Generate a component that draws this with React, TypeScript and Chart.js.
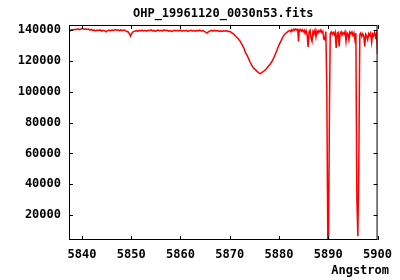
import React, { useEffect, useRef } from "react";
import Chart from "chart.js/auto";

const TITLE = "OHP_19961120_0030n53.fits";
const X_LABEL = "Angstrom";
const X_MIN = 5837.37;
const X_MAX = 5900;
const Y_MIN = 4000;
const Y_MAX = 143100;
const X_TICKS = [5840, 5850, 5860, 5870, 5880, 5890, 5900];
const Y_TICKS = [20000, 40000, 60000, 80000, 100000, 120000, 140000];

// Wavelength (Angstrom) of each sample
const wavelength = [
  5837.4, 5837.7, 5838.0, 5838.3, 5838.6, 5838.9, 5839.2, 5839.5, 5839.8, 5840.1,
  5840.4, 5840.7, 5841.0, 5841.3, 5841.6, 5841.9, 5842.2, 5842.5, 5842.8, 5843.1,
  5843.4, 5843.7, 5844.0, 5844.3, 5844.6, 5844.9, 5845.2, 5845.5, 5845.8, 5846.1,
  5846.4, 5846.7, 5847.0, 5847.3, 5847.6, 5847.9, 5848.2, 5848.5, 5848.8, 5849.1,
  5849.4, 5849.65, 5849.85, 5850.1, 5850.4,
  5850.7, 5851.0, 5851.3, 5851.6, 5851.9, 5852.2, 5852.5, 5852.8, 5853.1, 5853.4,
  5853.7, 5854.0, 5854.3, 5854.6, 5854.9, 5855.2, 5855.5, 5855.8, 5856.1, 5856.4,
  5856.7, 5857.0, 5857.3, 5857.6, 5857.9, 5858.2, 5858.5, 5858.8, 5859.1, 5859.4,
  5859.7, 5860.0, 5860.3, 5860.6, 5860.9, 5861.2, 5861.5, 5861.8, 5862.1, 5862.4,
  5862.7, 5863.0, 5863.3, 5863.6, 5863.9, 5864.2, 5864.5, 5864.8, 5865.1, 5865.4,
  5865.7, 5866.0, 5866.3, 5866.6, 5866.9, 5867.2, 5867.5, 5867.8, 5868.1, 5868.4,
  5868.7, 5869.0, 5869.3, 5869.6, 5869.9, 5870.2,
  5870.5, 5870.8, 5871.1, 5871.4, 5871.7, 5872.0, 5872.3, 5872.6, 5872.9, 5873.2,
  5873.5, 5873.8, 5874.1, 5874.4, 5874.7, 5875.0, 5875.3, 5875.6, 5875.9, 5876.2,
  5876.5, 5876.8, 5877.1, 5877.4, 5877.7, 5878.0, 5878.3, 5878.6, 5878.9, 5879.2,
  5879.5, 5879.8, 5880.1, 5880.4, 5880.7, 5881.0, 5881.3, 5881.6, 5881.9,
  5882.2, 5882.4, 5882.6, 5882.8, 5883.0, 5883.2, 5883.4, 5883.6, 5883.8, 5883.95,
  5884.1, 5884.3, 5884.5, 5884.7, 5884.9, 5885.1, 5885.3, 5885.5, 5885.7, 5885.9,
  5886.1, 5886.3, 5886.5, 5886.7, 5886.9, 5887.1, 5887.3, 5887.5, 5887.7, 5887.9,
  5888.1, 5888.3, 5888.5, 5888.7, 5888.9, 5889.1, 5889.3, 5889.5, 5889.7, 5889.9,
  5890.05, 5890.25, 5890.4, 5890.6, 5890.8, 5891.0, 5891.2, 5891.4, 5891.6, 5891.8,
  5892.0, 5892.2, 5892.4, 5892.6, 5892.8, 5893.0, 5893.2, 5893.4, 5893.6, 5893.8,
  5894.0, 5894.2, 5894.4, 5894.6, 5894.8, 5895.0, 5895.2, 5895.4, 5895.6, 5895.8,
  5896.0, 5896.2, 5896.4, 5896.6, 5896.8, 5897.0, 5897.2, 5897.4, 5897.6, 5897.8,
  5898.0, 5898.2, 5898.4, 5898.6, 5898.8, 5899.0, 5899.2, 5899.4, 5899.6, 5899.8,
  5900.0,
];

// Flux (counts) at each wavelength
const flux = [
  138600, 139800, 140100, 139900, 140400, 140200, 140600, 140100, 140500, 140900,
  140300, 140700, 140200, 140500, 139800, 140300, 139600, 139900, 139300, 139800,
  139500, 139900, 139200, 139700, 139400, 138700, 139500, 139800, 139300, 139900,
  139600, 140100, 139700, 140000, 139500, 139900, 139400, 139800, 139600, 138900,
  138600, 137200, 135900, 137600, 138800,
  139100, 139500, 139000, 139700, 139300, 139800, 139200, 139600, 139100, 139700,
  139400, 139900, 139300, 139600, 139000, 139500, 139800, 139200, 139600, 139300,
  139900, 139400, 139700, 139100, 139500, 138800, 139400, 139700, 139200, 139600,
  139300, 139800, 139100, 139500, 139200, 139600, 139000, 139400, 139700, 139200,
  139500, 139100, 139600, 139300, 139800, 139200, 139500, 139000, 138500, 137900,
  138800, 139300, 139600, 139100, 139700, 139300, 139500, 139000, 139400, 138900,
  139300, 139100, 139500, 138900, 139000, 138600,
  137900, 137200, 136100, 135200, 134200, 133100, 131600, 129800, 127900, 125000,
  123600, 121500, 119300, 117500, 115800, 114700, 113900, 112900, 112100, 111700,
  112400, 113000, 113700, 114700, 115900, 117000, 118200, 119800, 121700, 123900,
  126200, 128700, 130900, 132800, 134900, 136400, 137600, 138300, 139100,
  139600, 138700, 140100, 139300, 140400, 139800, 140600, 139900, 140300, 132500,
  139700, 140200, 139100, 140000, 138800, 139800, 137600, 139400, 136800, 128900,
  138700, 139700, 134600, 132500, 139200, 138100, 139800, 135400, 139300, 137900,
  139500, 138600, 139900, 138200, 139100, 134000, 133600, 138900, 101700, 4000,
  5000, 92200, 137400, 138600, 137100, 138300, 136900, 138500, 128200, 137800,
  138400, 129200, 137500, 138700, 136600, 138200, 137300, 138800, 132500, 138100,
  137000, 133600, 138500, 137400, 138600, 136500, 138000, 133600, 137800, 31000,
  6500, 54000, 136800, 137900, 135600, 137400, 136200, 129200, 137100, 135900,
  133600, 137500, 136300, 137800, 131800, 137200, 136000, 138300, 135300, 137600,
  124300,
];

const FONT = "'DejaVu Sans Mono', monospace";

export default function App() {
  const ref = useRef<HTMLCanvasElement>(null);

  useEffect(() => {
    document.body.style.margin = "0";
    const canvas = ref.current;
    if (!canvas) return;

    const framePlugin = {
      id: "gnuFrame",
      afterDraw(chart: any) {
        const { ctx, chartArea: a, scales } = chart;
        ctx.save();
        ctx.strokeStyle = "#000";
        ctx.lineWidth = 1;
        ctx.strokeRect(a.left + 0.5, a.top + 0.5, a.right - a.left - 1, a.bottom - a.top - 1);
        const tl = 4;
        ctx.beginPath();
        for (const v of X_TICKS) {
          const px = Math.round(scales.x.getPixelForValue(v)) + 0.5;
          ctx.moveTo(px, a.bottom);
          ctx.lineTo(px, a.bottom - tl);
          ctx.moveTo(px, a.top);
          ctx.lineTo(px, a.top + tl);
        }
        for (const v of Y_TICKS) {
          const py = Math.round(scales.y.getPixelForValue(v)) + 0.5;
          ctx.moveTo(a.left, py);
          ctx.lineTo(a.left + tl, py);
          ctx.moveTo(a.right, py);
          ctx.lineTo(a.right - tl, py);
        }
        ctx.stroke();
        ctx.fillStyle = "#000";
        ctx.font = `bold 12px ${FONT}`;
        ctx.textBaseline = "middle";
        ctx.textAlign = "center";
        ctx.fillText(TITLE, (a.left + a.right) / 2, 14);
        ctx.textAlign = "right";
        ctx.fillText(X_LABEL, 389, 271);
        ctx.restore();
      },
    };

    const tickFont = { family: FONT, size: 12, weight: "bold" as const };

    const chart = new Chart(canvas, {
      type: "line",
      data: {
        datasets: [
          {
            data: wavelength.map((x, i) => ({ x, y: flux[i] })),
            borderColor: "#ff0000",
            borderWidth: 1.5,
            pointRadius: 0,
            tension: 0,
            fill: false,
          },
        ],
      },
      options: {
        animation: false,
        responsive: false,
        layout: { padding: { left: 0, right: 21, top: 25, bottom: 0 } },
        plugins: { legend: { display: false }, tooltip: { enabled: false }, title: { display: false } },
        scales: {
          x: {
            type: "linear",
            min: X_MIN,
            max: X_MAX,
            afterBuildTicks: (s: any) => {
              s.ticks = X_TICKS.map((value) => ({ value }));
            },
            afterFit: (s: any) => {
              s.height = 40;
            },
            grid: { display: false, drawTicks: false },
            border: { display: false },
            ticks: {
              color: "#000",
              font: tickFont,
              padding: 8,
              maxRotation: 0,
              autoSkip: false,
              callback: (v: any) => String(v),
            },
          },
          y: {
            type: "linear",
            min: Y_MIN,
            max: Y_MAX,
            afterBuildTicks: (s: any) => {
              s.ticks = Y_TICKS.map((value) => ({ value }));
            },
            afterFit: (s: any) => {
              s.width = 69;
            },
            grid: { display: false, drawTicks: false },
            border: { display: false },
            ticks: {
              color: "#000",
              font: tickFont,
              padding: 8,
              autoSkip: false,
              callback: (v: any) => String(v),
            },
          },
        },
      },
      plugins: [framePlugin],
    });

    return () => chart.destroy();
  }, []);

  return (
    <div style={{ width: 400, height: 280, background: "#fff" }}>
      <canvas ref={ref} width={400} height={280} style={{ display: "block" }} />
    </div>
  );
}
